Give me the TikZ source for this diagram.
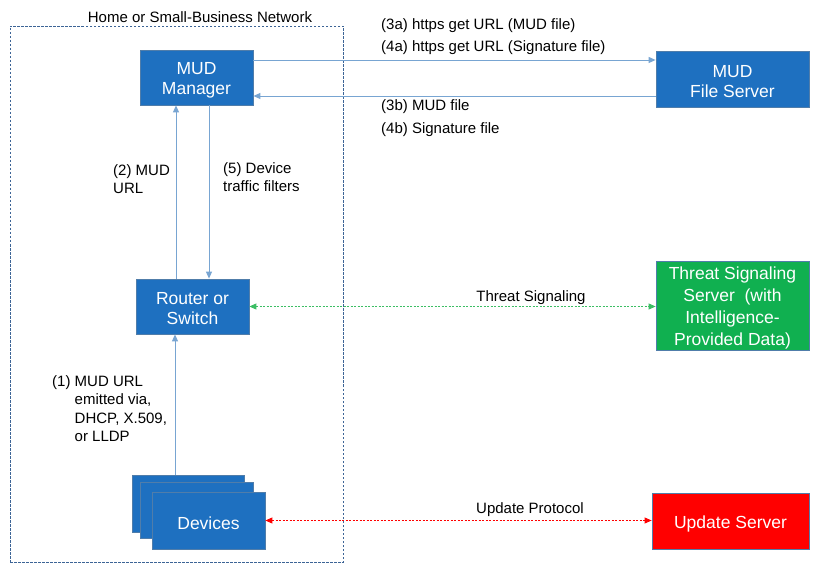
\documentclass[tikz,border=0pt]{standalone}
\usepackage{fontspec}
\setmainfont{Liberation Sans}
\usetikzlibrary{arrows.meta}
\definecolor{boxblue}{RGB}{30,112,192}
\definecolor{boxedge}{RGB}{80,125,170}
\definecolor{lineblue}{RGB}{120,165,210}
\definecolor{netedge}{RGB}{60,100,150}
\definecolor{tsgreen}{RGB}{16,176,80}
\definecolor{dotgreen}{RGB}{60,190,100}
\definecolor{usred}{RGB}{255,0,0}
\begin{document}
\begin{tikzpicture}[x=1pt,y=-1pt,
  box/.style={draw=boxedge,line width=0.8pt,fill=boxblue,inner sep=0pt},
  boxtxt/.style={text=white,align=center,inner sep=0pt,yshift=-2.5pt,
    font=\fontsize{17.5}{20}\selectfont},
  txt/.style={label={[boxtxt]center:{#1}}},
  lbl/.style={font=\fontsize{15}{18.5}\selectfont,inner sep=0pt,align=left},
  arr/.style={draw=lineblue,line width=0.9pt,-{Triangle[length=7pt,width=6pt]}},
  dotarr/.style={line width=0.9pt,dash pattern=on 2pt off 1.5pt,
    {Triangle[length=7pt,width=6pt]}-{Triangle[length=7pt,width=6pt]}}]
\useasboundingbox (0,0) rectangle (820,572);
\fill[white] (0,0) rectangle (820,572);
% network boundary
\node[draw=netedge,dash pattern=on 2.5pt off 1.5pt,line width=0.9pt,
  minimum width=333pt,minimum height=536pt,inner sep=0pt] (net) at (176.5,294) {};
\node[lbl] (nettitle) at (200,17) {Home or Small-Business Network};
% nodes
\node[box,txt={MUD\\Manager},minimum width=113pt,minimum height=55pt] (mm) at (196.5,77.5) {};
\node[box,txt={MUD\\File Server},minimum width=153pt,minimum height=56pt] (fs) at (732.5,79) {};
\node[box,txt={Router or\\Switch},minimum width=113pt,minimum height=55pt] (rs) at (192.5,306.5) {};
\node[box,minimum width=112pt,minimum height=57pt] (dev1) at (188,503.5) {};
\node[box,minimum width=113pt,minimum height=56pt] (dev2) at (196.5,510) {};
\node[box,txt={Devices},minimum width=113pt,minimum height=57pt] (dev3) at (208.5,520.5) {};
\node[box,fill=tsgreen,minimum width=153pt,minimum height=89pt,
  label={[boxtxt,font=\fontsize{17.5}{22}\selectfont]center:{Threat Signaling\\Server\ \ (with\\Intelligence-\\Provided Data)}}] (tss) at (732.5,305.5) {};
\node[box,fill=usred,txt={Update Server},minimum width=157pt,minimum height=56pt] (us) at (730.5,521) {};
% connectors
\draw[arr] (mm.east |- 0,60) -- (fs.west |- 0,60);
\draw[arr] (fs.west |- 0,96) -- (mm.east |- 0,96);
\draw[arr] (rs.north -| 176,0) -- (mm.south -| 176,0);
\draw[arr] (mm.south -| 209,0) -- (rs.north -| 209,0);
\draw[arr] (dev1.north -| 175,0) -- (rs.south -| 175,0);
\draw[dotarr,draw=dotgreen,color=dotgreen] (rs.east) -- (rs.east -| tss.west);
\draw[dotarr,draw=usred,color=usred] (dev3.east) -- (dev3.east -| us.west);
% labels
\node[lbl,anchor=west] (l3a) at (381,26) {(3a) https get URL (MUD file)};
\node[lbl,anchor=west] (l4a) at (381,48) {(4a) https get URL (Signature file)};
\node[lbl,anchor=west] (l3b) at (381,107) {(3b) MUD file};
\node[lbl,anchor=west] (l4b) at (381,130) {(4b) Signature file};
\node[lbl,anchor=west] (l2) at (113,179) {(2) MUD\\URL};
\node[lbl,anchor=west] (l5) at (223,177) {(5) Device\\traffic filters};
\node[lbl,anchor=north west] (l1) at (52,373) {\begin{tabular}{@{}l@{\ }l@{}}(1)&MUD URL\\&emitted via,\\&DHCP, X.509,\\&or LLDP\end{tabular}};
\node[lbl] (lts) at (531,298) {Threat Signaling};
\node[lbl] (lup) at (530,510) {Update Protocol};
\end{tikzpicture}
\end{document}
